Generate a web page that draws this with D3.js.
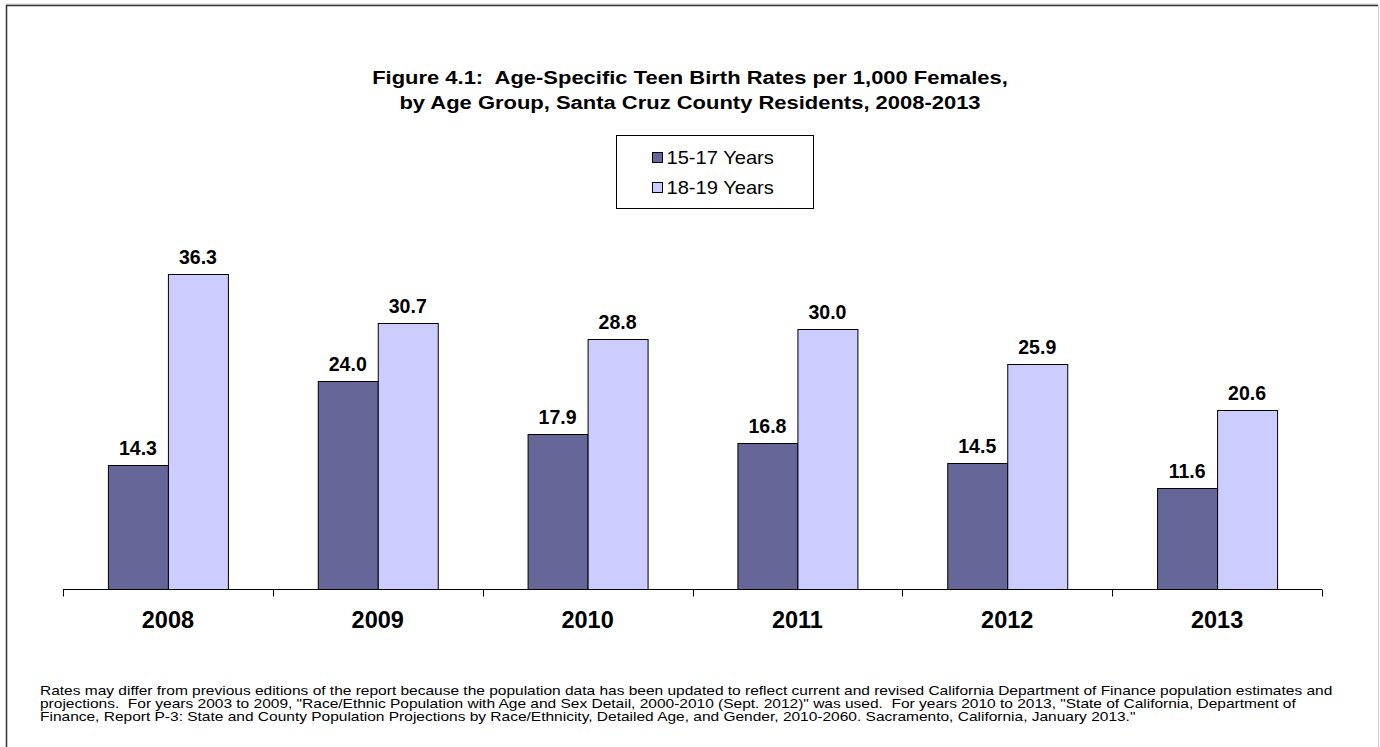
<!DOCTYPE html>
<html>
<head>
<meta charset="utf-8">
<script src="https://cdn.jsdelivr.net/npm/d3@7"></script>
<style>
  body { margin: 0; background: #fff; }
  svg { display: block; font-family: "Liberation Sans", Arial, sans-serif; }
  text { white-space: pre; }
</style>
</head>
<body>
<div id="chart"></div>
<script>
const years = ['2008', '2009', '2010', '2011', '2012', '2013'];
const seriesNames = ['15-17 Years', '18-19 Years'];
const ages1517 = [14.3, 24.0, 17.9, 16.8, 14.5, 11.6];
const ages1819 = [36.3, 30.7, 28.8, 30.0, 25.9, 20.6];
const colors = ['#666699', '#CCCCFF'];
const titleLines = [
    'Figure 4.1:  Age-Specific Teen Birth Rates per 1,000 Females,',
    'by Age Group, Santa Cruz County Residents, 2008-2013'
];
const footLines = [
    'Rates may differ from previous editions of the report because the population data has been updated to reflect current and revised California Department of Finance population estimates and',
    'projections.  For years 2003 to 2009, "Race/Ethnic Population with Age and Sex Detail, 2000-2010 (Sept. 2012)" was used.  For years 2010 to 2013, "State of California, Department of',
    'Finance, Report P-3: State and County Population Projections by Race/Ethnicity, Detailed Age, and Gender, 2010-2060. Sacramento, California, January 2013."'
];

const W = 1380, H = 747;
const svg = d3.select('#chart').append('svg')
    .attr('width', W)
    .attr('height', H);

// frame
svg.append('line').attr('x1', 6).attr('x2', 1378).attr('y1', 4).attr('y2', 4).attr('stroke', '#c8c8c8');
svg.append('line').attr('x1', 6).attr('x2', 1378).attr('y1', 5.5).attr('y2', 5.5).attr('stroke', '#333').attr('stroke-width', 1.5);
svg.append('line').attr('x1', 6.5).attr('x2', 6.5).attr('y1', 5).attr('y2', H).attr('stroke', '#333').attr('stroke-width', 1.5);
svg.append('line').attr('x1', 1378.5).attr('x2', 1378.5).attr('y1', 5).attr('y2', H).attr('stroke', '#d0d0d0');

// title (source is stretched horizontally)
const titleG = svg.append('g');
const titleText = titleG.append('text')
    .attr('x', 0).attr('y', 84)
    .attr('text-anchor', 'middle')
    .style('font-size', '18.5px').style('font-weight', 'bold');
titleText.selectAll('tspan').data(titleLines).enter().append('tspan')
    .attr('x', 0).attr('dy', (d, i) => i ? 25 : 0)
    .text(d => d);
const titleLen = titleText.select('tspan').node().getComputedTextLength();
titleG.attr('transform', `translate(690,0) scale(${636 / titleLen},1)`);

// scales
const margin = {left: 63, right: 1322, top: 242, bottom: 589};
const x = d3.scaleBand()
    .domain(years)
    .range([margin.left, margin.right])
    .paddingInner(0)
    .paddingOuter(0);
const x1 = d3.scaleBand()
    .domain([0, 1])
    .range([x.bandwidth() / 2 - 60, x.bandwidth() / 2 + 60]);
const y = d3.scaleLinear()
    .domain([0, 40])
    .range([margin.bottom, margin.top]);

const rows = years.map((yr, i) => ({year: yr, vals: [ages1517[i], ages1819[i]]}));

const groups = svg.selectAll('g.year')
    .data(rows)
    .enter().append('g')
    .attr('class', 'year')
    .attr('transform', d => `translate(${x(d.year)},0)`);

groups.selectAll('rect')
    .data(d => d.vals.map((v, k) => ({v, k})))
    .enter().append('rect')
    .attr('x', d => x1(d.k) + 0.5)
    .attr('y', d => Math.round(y(d.v)) + 0.5)
    .attr('width', x1.bandwidth())
    .attr('height', d => margin.bottom - Math.round(y(d.v)))
    .attr('fill', d => colors[d.k])
    .attr('stroke', '#000')
    .attr('stroke-width', 1);

groups.selectAll('text.val')
    .data(d => d.vals.map((v, k) => ({v, k})))
    .enter().append('text')
    .attr('class', 'val')
    .attr('x', d => x1(d.k) + x1.bandwidth() / 2)
    .attr('y', d => y(d.v) - 10)
    .attr('text-anchor', 'middle')
    .style('font-size', '19.5px').style('font-weight', 'bold')
    .text(d => d.v.toFixed(1));

// x axis
const xAxis = d3.axisBottom(x).tickSize(0).tickPadding(0);
const axisG = svg.append('g')
    .attr('transform', `translate(0,${margin.bottom + 0.5})`)
    .call(xAxis);
axisG.select('.domain').remove();
axisG.append('line')
    .attr('x1', margin.left).attr('x2', margin.right)
    .attr('stroke', '#000');
axisG.selectAll('.boundary')
    .data(d3.range(years.length + 1))
    .enter().append('line')
    .attr('class', 'boundary')
    .attr('x1', i => Math.round(margin.left + i * x.bandwidth()) + 0.5)
    .attr('x2', i => Math.round(margin.left + i * x.bandwidth()) + 0.5)
    .attr('y1', 0).attr('y2', 7)
    .attr('stroke', '#000');
axisG.selectAll('.tick text')
    .attr('y', 38)
    .attr('dy', 0)
    .attr('fill', '#000')
    .style('font-family', '"Liberation Sans", Arial, sans-serif')
    .style('font-size', '23.5px').style('font-weight', 'bold');

// legend
const legend = svg.append('g').attr('transform', 'translate(616.5,135.5)');
legend.append('rect')
    .attr('width', 197).attr('height', 73)
    .attr('fill', '#fff').attr('stroke', '#000');
const items = legend.selectAll('g.item')
    .data(seriesNames)
    .enter().append('g')
    .attr('transform', (d, i) => `translate(36,${22 + i * 30})`);
items.append('rect')
    .attr('x', 0).attr('y', -5)
    .attr('width', 10).attr('height', 10)
    .attr('fill', (d, i) => colors[i])
    .attr('stroke', '#000');
items.append('text')
    .attr('transform', 'translate(14,6) scale(1.15,1)')
    .style('font-size', '17.5px')
    .text(d => d);

// footnote, stretched horizontally like the source
const foot = svg.append('g').attr('transform', 'translate(40,0)');
const footText = foot.append('text')
    .attr('y', 695)
    .style('font-size', '13px');
footText.selectAll('tspan').data(footLines).enter().append('tspan')
    .attr('x', 0).attr('dy', (d, i) => i ? 13 : 0)
    .text(d => d);
const firstLen = footText.select('tspan').node().getComputedTextLength();
foot.attr('transform', `translate(40,0) scale(${1293 / firstLen},1)`);
</script>
</body>
</html>
